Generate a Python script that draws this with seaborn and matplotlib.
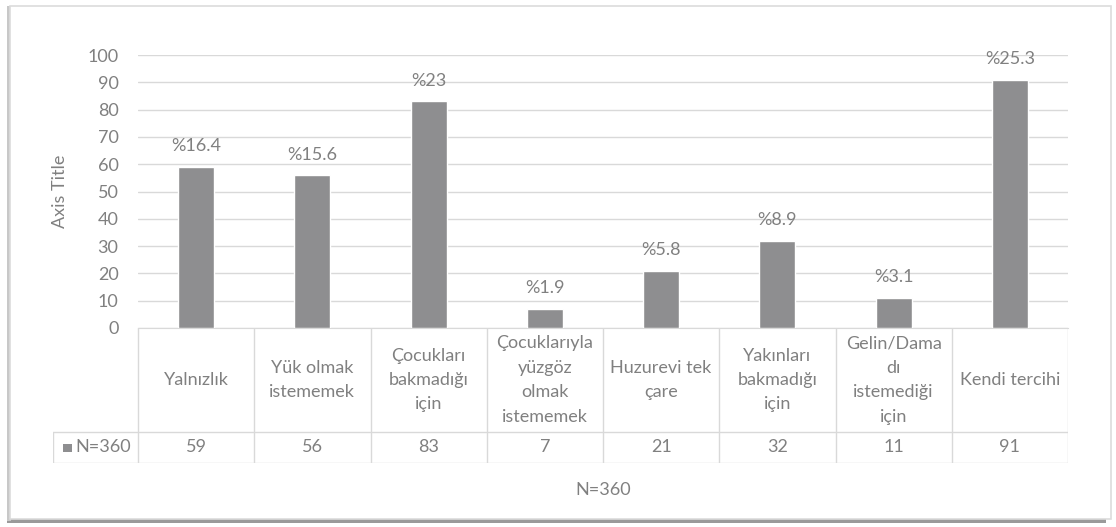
import matplotlib
matplotlib.use("Agg")
import matplotlib.pyplot as plt
from matplotlib.patches import Rectangle
import seaborn as sns
import pandas as pd

# Reasons for choosing a nursing home (N=360)
categories = [
    "Yalnızlık",
    "Yük olmak\nistememek",
    "Çocukları\nbakmadığı\niçin",
    "Çocuklarıyla\nyüzgöz\nolmak\nistememek",
    "Huzurevi tek\nçare",
    "Yakınları\nbakmadığı\niçin",
    "Gelin/Dama\ndı\nistemediği\niçin",
    "Kendi tercihi",
]
counts = [59, 56, 83, 7, 21, 32, 11, 91]
percent_labels = ["%16.4", "%15.6", "%23", "%1.9", "%5.8", "%8.9", "%3.1", "%25.3"]
series_name = "N=360"
y_ticks = [0, 10, 20, 30, 40, 50, 60, 70, 80, 90, 100]

sns.set_style("white")
plt.rcParams["font.family"] = ["Lato", "DejaVu Sans"]

TEXT = "#808080"
GRID = "#d9d9d9"
BAR = "#8e8e90"
FS = 13

W, H = 1116, 527
fig = plt.figure(figsize=(W / 100, H / 100), dpi=100)
fig.patch.set_facecolor("white")


def fx(px):
    return px / W


def fy(py):
    return 1 - py / H


# Outer chart frame with a soft shadow on the left/bottom
fig.patches.append(Rectangle((fx(7), fy(523)), fx(1106) - fx(7), fy(518) - fy(523),
                             transform=fig.transFigure, facecolor="#9a9a9a",
                             edgecolor="none", zorder=0))
fig.patches.append(Rectangle((fx(7), fy(521)), fx(11) - fx(7), fy(6) - fy(521),
                             transform=fig.transFigure, facecolor="#c8c8c8",
                             edgecolor="none", zorder=0))
fig.patches.append(Rectangle((fx(10), fy(519)), fx(1111) - fx(10), fy(6) - fy(519),
                             transform=fig.transFigure, facecolor="white",
                             edgecolor="#dcdcdc", linewidth=1.2, zorder=1))

# Bar plot area
left_px, right_px = 138, 1068
top_px, base_px = 55, 328
ax = fig.add_axes([fx(left_px), fy(base_px), fx(right_px) - fx(left_px), fy(top_px) - fy(base_px)])
ax.set_zorder(3)
ax.patch.set_alpha(0)

df = pd.DataFrame({"category": categories, "count": counts})
sns.barplot(data=df, x="category", y="count", color=BAR, width=0.31,
            saturation=1, ax=ax, zorder=3)
ax.set_xlim(-0.5, len(categories) - 0.5)
ax.set_ylim(0, 100)
ax.set_yticks(y_ticks)
ax.set_yticklabels([str(t) for t in y_ticks], color=TEXT, fontsize=FS)
ax.tick_params(axis="y", length=0, pad=14)
ax.set_xticks([])
ax.set_xlabel("")
ax.set_ylabel("Axis Title", color=TEXT, fontsize=FS, labelpad=14)
ax.yaxis.grid(True, color=GRID, linewidth=1)
ax.set_axisbelow(True)
for s in ["top", "right", "left"]:
    ax.spines[s].set_visible(False)
ax.spines["bottom"].set_color(GRID)

for i, (v, lab) in enumerate(zip(counts, percent_labels)):
    ax.annotate(lab, (i, v), xytext=(0, 9), textcoords="offset points",
                ha="center", va="bottom", color=TEXT, fontsize=FS)

# Data table below the plot area
legend_px = 53
table_bottom_px = 463
value_top_px = 432
unit = (right_px - left_px) / len(categories)
tx0 = -0.5 - (left_px - legend_px) / unit
tax = fig.add_axes([fx(legend_px), fy(table_bottom_px), fx(right_px) - fx(legend_px),
                    fy(base_px) - fy(table_bottom_px)])
tax.set_zorder(3)
tax.patch.set_alpha(0)
tax.set_xlim(tx0, len(categories) - 0.5)
tax.set_ylim(0, table_bottom_px - base_px)
tax.axis("off")
row_h = table_bottom_px - value_top_px
full_h = table_bottom_px - base_px

for k in range(len(categories) + 1):
    tax.plot([k - 0.5, k - 0.5], [0, full_h], color=GRID, lw=1)
tax.plot([tx0, tx0], [0, row_h], color=GRID, lw=1)
tax.plot([tx0, len(categories) - 0.5], [row_h, row_h], color=GRID, lw=1)
tax.plot([tx0, len(categories) - 0.5], [0, 0], color=GRID, lw=1)

for i, (c, v) in enumerate(zip(categories, counts)):
    tax.text(i, row_h + (full_h - row_h) / 2, c, ha="center", va="center",
             color=TEXT, fontsize=FS, linespacing=1.65)
    tax.text(i, row_h / 2, str(v), ha="center", va="center", color=TEXT, fontsize=FS)

tax.add_patch(Rectangle((tx0 + 0.09, row_h / 2 - 4), 0.075, 8, facecolor=BAR,
                        edgecolor="none"))
tax.text(tx0 + 0.19, row_h / 2, series_name, ha="left", va="center", color=TEXT, fontsize=FS)

# Horizontal axis title
fig.text(fx((left_px + right_px) / 2), fy(490), series_name, ha="center", va="center",
         color=TEXT, fontsize=FS, zorder=4)

fig.savefig("out.png", dpi=100, facecolor="white")
